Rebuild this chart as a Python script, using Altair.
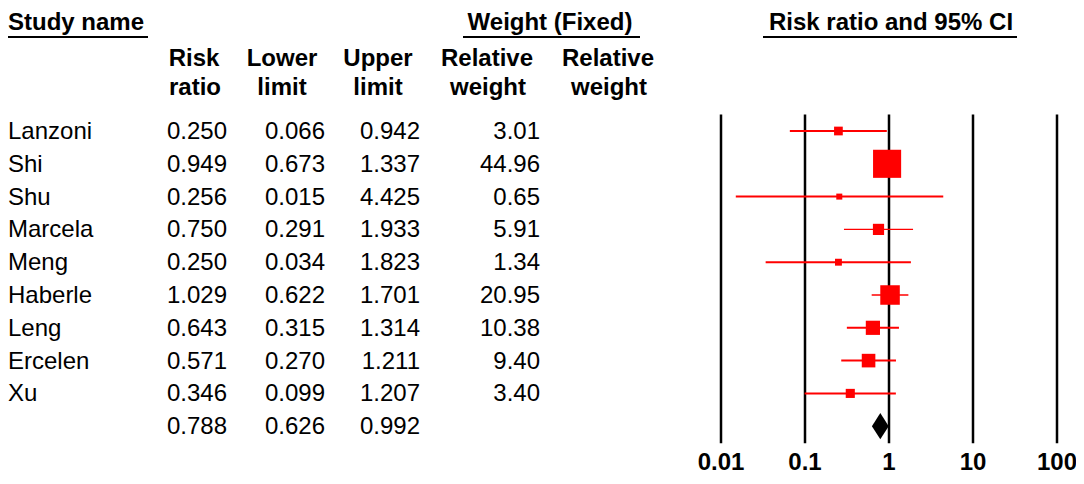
import altair as alt
import pandas as pd

# ---------------- data ----------------
studies = ["Lanzoni", "Shi", "Shu", "Marcela", "Meng", "Haberle", "Leng", "Ercelen", "Xu"]
risk_ratio = [0.250, 0.949, 0.256, 0.750, 0.250, 1.029, 0.643, 0.571, 0.346]
lower_limit = [0.066, 0.673, 0.015, 0.291, 0.034, 0.622, 0.315, 0.270, 0.099]
upper_limit = [0.942, 1.337, 4.425, 1.933, 1.823, 1.701, 1.314, 1.211, 1.207]
relative_weight = [3.01, 44.96, 0.65, 5.91, 1.34, 20.95, 10.38, 9.40, 3.40]

summary_rr = 0.788
summary_lower = 0.626
summary_upper = 0.992

tick_values = [0.01, 0.1, 1, 10, 100]
tick_labels = ["0.01", "0.1", "1", "10", "100"]

# ---------------- tables built from the data ----------------
n = len(studies)
studies_df = pd.DataFrame({
    "row": list(range(n)),
    "study": studies,
    "rr": risk_ratio,
    "lo": lower_limit,
    "hi": upper_limit,
    "weight": relative_weight,
    "thin": [s in ("Marcela", "Haberle") for s in studies],
})
summary_df = pd.DataFrame({
    "row": [n], "rr": [summary_rr], "lo": [summary_lower], "hi": [summary_upper],
})
values_df = pd.concat([studies_df[["row", "rr", "lo", "hi"]], summary_df], ignore_index=True)

half = 0.4  # diamond half-height in row units (style)
diamond_df = pd.DataFrame({
    "x": [summary_lower, summary_rr, summary_upper],
    "y": [n, n - half, n],
    "y2": [n, n + half, n],
})
ticks_df = pd.DataFrame({"v": tick_values, "label": tick_labels})

# ---------------- layout / style ----------------
W, H = 1068, 468
FONT = "Liberation Sans"
FS = 24
RED = "#FF0000"

yscale = alt.Scale(domain=[-3.75, 10.518], range=[0, H], nice=False, zero=False)
xscale = alt.Scale(type="log", domain=[0.01, 100], range=[713, 1049], nice=False)

# header layout (pixel positions inside the chart)
head_center = pd.DataFrame({
    "t": ["Weight (Fixed)", "Risk ratio and 95% CI",
          "Risk", "ratio", "Lower", "limit", "Upper", "limit",
          "Relative", "weight", "Relative", "weight"],
    "px": [542, 883, 186, 187, 274, 274, 370, 370, 479, 480, 600, 601],
    "py": [22, 22, 58, 87, 58, 87, 58, 87, 58, 87, 58, 87],
})
head_left = pd.DataFrame({"t": ["Study name"], "px": [0], "py": [22]})
lines_df = pd.DataFrame({"x1": [0, 455, 755], "x2": [140, 632, 1009], "py": [29, 29, 29]})

hc = alt.Chart(head_center).mark_text(
    align="center", baseline="alphabetic", font=FONT, fontSize=FS, fontWeight="bold", color="black"
).encode(x=alt.X("px:Q", scale=None), y=alt.Y("py:Q", scale=None), text="t:N")
hl = alt.Chart(head_left).mark_text(
    align="left", baseline="alphabetic", font=FONT, fontSize=FS, fontWeight="bold", color="black"
).encode(x=alt.X("px:Q", scale=None), y=alt.Y("py:Q", scale=None), text="t:N")
ul = alt.Chart(lines_df).mark_rule(color="black", strokeWidth=2).encode(
    x=alt.X("x1:Q", scale=None), x2="x2:Q", y=alt.Y("py:Q", scale=None)
)

ytext = alt.Y("row:Q", scale=yscale, axis=None)


def col(df, field, x, align, fmt=None):
    txt = alt.Text(f"{field}:Q", format=fmt) if fmt else alt.Text(f"{field}:N")
    return alt.Chart(df).mark_text(
        align=align, baseline="alphabetic", dy=8, font=FONT, fontSize=FS, color="black"
    ).encode(x=alt.value(x), y=ytext, text=txt)


columns = [
    col(studies_df, "study", 0, "left"),
    col(values_df, "rr", 219, "right", ".3f"),
    col(values_df, "lo", 317, "right", ".3f"),
    col(values_df, "hi", 412, "right", ".3f"),
    col(studies_df, "weight", 532, "right", ".2f"),
]

grid = alt.Chart(ticks_df).transform_calculate(
    ytop="-0.5", ybot="9.52"
).mark_rule(color="black", strokeWidth=2.5).encode(
    x=alt.X("v:Q", scale=xscale, axis=None),
    y=alt.Y("ytop:Q", scale=yscale, axis=None),
    y2="ybot:Q",
)

tick_text = alt.Chart(ticks_df).mark_text(
    align="center", baseline="alphabetic", font=FONT, fontSize=FS, fontWeight="bold", color="black"
).encode(x=alt.X("v:Q", scale=xscale, axis=None), y=alt.value(462), text="label:N")

ci_thick = alt.Chart(studies_df).transform_filter("!datum.thin").mark_rule(
    color=RED, strokeWidth=2
).encode(
    x=alt.X("lo:Q", scale=xscale, axis=None), x2="hi:Q",
    y=alt.Y("row:Q", scale=yscale, axis=None),
)
ci_thin = alt.Chart(studies_df).transform_filter("datum.thin").mark_rule(
    color=RED, strokeWidth=1.3
).encode(
    x=alt.X("lo:Q", scale=xscale, axis=None), x2="hi:Q",
    y=alt.Y("row:Q", scale=yscale, axis=None),
)

squares = alt.Chart(studies_df).mark_square(color=RED, filled=True, opacity=1).encode(
    x=alt.X("rr:Q", scale=xscale, axis=None),
    y=alt.Y("row:Q", scale=yscale, axis=None),
    size=alt.Size("weight:Q", scale=alt.Scale(domain=[0, 45], range=[25, 790]), legend=None),
)

diamond = alt.Chart(diamond_df).mark_area(color="black", opacity=1).encode(
    x=alt.X("x:Q", scale=xscale, axis=None),
    y=alt.Y("y:Q", scale=yscale, axis=None),
    y2="y2:Q",
)

chart = alt.layer(
    grid, ci_thick, ci_thin, squares, diamond, tick_text, *columns, hc, hl, ul
).properties(
    width=W, height=H,
    autosize=alt.AutoSizeParams(type="none"),
    padding=0,
    background="white",
).configure_view(stroke=None)

chart.save("out.html", embed_options={"renderer": "svg", "actions": False})
